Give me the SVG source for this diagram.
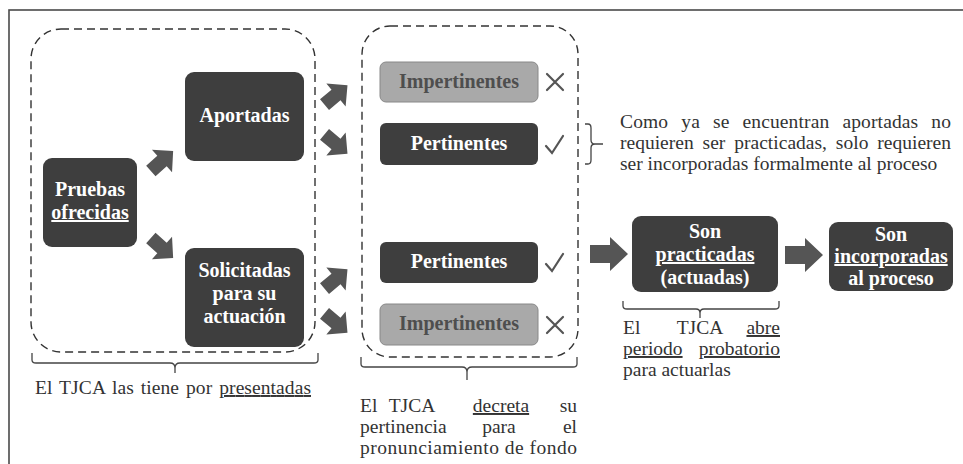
<svg xmlns="http://www.w3.org/2000/svg" width="963" height="464" viewBox="0 0 963 464" font-family="Liberation Serif, DejaVu Serif, serif">
<defs>
<style>
.frame{fill:none;stroke:#4a4a4a;stroke-width:1.6}
.dash{fill:none;stroke:#333;stroke-width:1.4;stroke-dasharray:8 5}
.dark{fill:#3e3e3e}
.light{fill:#a9a9a9;stroke:#888;stroke-width:1}
.nt{font-weight:bold;font-size:20px;fill:#fff;text-anchor:middle}
.lt{font-weight:bold;font-size:20px;fill:#4e4e4e;text-anchor:middle}
.tx{font-size:19.5px;fill:#333}
.u{text-decoration:underline}
.br{fill:none;stroke:#444;stroke-width:1.3}
.arr{fill:#555}
.mk{fill:none;stroke:#555;stroke-width:2.2;stroke-linecap:round}
</style>
<path id="da" d="M-15,-7 H0 V-15 L15,0 L0,15 V7 H-15 Z"/>
<path id="ha" d="M-19,-9 H1 V-17 L19,0 L1,17 V9 H-19 Z"/>
</defs>
<rect x="0" y="0" width="963" height="464" fill="#fff"/>
<rect class="frame" x="9" y="10" width="980" height="480"/>

<g id="group-presentadas">
<rect class="dash" x="31" y="29" width="284" height="323" rx="30"/>
<path class="br" d="M32,353 V360 Q32,363 36,363 H170 Q175,363 175,368 V373 M175,368 Q175,363 180,363 H314 Q318,363 318,360 V353"/>
<text class="tx" x="35" y="394" word-spacing="2" textLength="276" lengthAdjust="spacing">El TJCA las tiene por <tspan class="u">presentadas</tspan></text>
</g>

<g id="group-decreta">
<rect class="dash" x="362" y="26" width="216" height="331" rx="28"/>
<path class="br" d="M361,357 V364 Q361,367 365,367 H462 Q467,367 467,372 V380 M467,372 Q467,367 472,367 H573 Q577,367 577,364 V357"/>
<text class="tx" x="360" y="412">El</text>
<text class="tx" x="412" y="412" text-anchor="middle">TJCA</text>
<text class="tx u" x="501" y="412" text-anchor="middle">decreta</text>
<text class="tx" x="577" y="412" text-anchor="end">su</text>
<text class="tx" x="360" y="433">pertinencia</text>
<text class="tx" x="499" y="433" text-anchor="middle">para</text>
<text class="tx" x="577" y="433" text-anchor="end">el</text>
<text class="tx" x="360" y="454" textLength="217" lengthAdjust="spacing">pronunciamiento de fondo</text>
</g>

<g id="pruebas">
<rect class="dark" x="43" y="158" width="94" height="89" rx="9"/>
<text class="nt" x="90" y="196">Pruebas</text>
<text class="nt u" x="90" y="219">ofrecidas</text>
</g>
<g id="aportadas">
<rect class="dark" x="185" y="72" width="119" height="89" rx="9"/>
<text class="nt" x="244.5" y="122">Aportadas</text>
</g>
<g id="solicitadas">
<rect class="dark" x="185" y="248" width="119" height="99" rx="9"/>
<text class="nt" x="244.5" y="277">Solicitadas</text>
<text class="nt" x="244.5" y="300">para su</text>
<text class="nt" x="244.5" y="323">actuación</text>
</g>

<g id="impertinentes-1">
<rect class="light" x="380" y="62" width="158" height="40" rx="6"/>
<text class="lt" x="459" y="88">Impertinentes</text>
<path class="mk" d="M547,74 L563,90 M563,74 L547,90"/>
</g>
<g id="pertinentes-1">
<rect class="dark" x="380" y="123" width="158" height="42" rx="6"/>
<text class="nt" x="459" y="150">Pertinentes</text>
<path class="mk" d="M546,146 L552,153 L563,136"/>
</g>
<g id="pertinentes-2">
<rect class="dark" x="380" y="242" width="158" height="41" rx="6"/>
<text class="nt" x="459" y="268">Pertinentes</text>
<path class="mk" d="M546,264 L552,271 L563,254"/>
</g>
<g id="impertinentes-2">
<rect class="light" x="380" y="304" width="158" height="41" rx="6"/>
<text class="lt" x="459" y="330">Impertinentes</text>
<path class="mk" d="M547,317 L563,333 M563,317 L547,333"/>
</g>

<g id="nota-aportadas">
<path class="br" d="M585,124 H588 Q591,124 591,128 V140 Q591,144 595,144 H603 M595,144 Q591,144 591,148 V160 Q591,164 588,164 H585"/>
<text class="tx" x="620" y="128" word-spacing="8" textLength="331" lengthAdjust="spacing">Como ya se encuentran aportadas no</text>
<text class="tx" x="620" y="149" word-spacing="4" textLength="331" lengthAdjust="spacing">requieren ser practicadas, solo requieren</text>
<text class="tx" x="620" y="170">ser incorporadas formalmente al proceso</text>
</g>

<g id="practicadas">
<rect class="dark" x="632" y="216" width="146" height="76" rx="9"/>
<text class="nt" x="705" y="238">Son</text>
<text class="nt u" x="705" y="261">practicadas</text>
<text class="nt" x="705" y="284">(actuadas)</text>
</g>
<g id="incorporadas">
<rect class="dark" x="829" y="222" width="124" height="69" rx="9"/>
<text class="nt" x="891" y="241">Son</text>
<text class="nt u" x="891" y="263">incorporadas</text>
<text class="nt" x="891" y="285">al proceso</text>
</g>

<g id="nota-probatorio">
<path class="br" d="M623,301 V306 Q623,309 627,309 H696 Q700,309 700,313 V318 M700,313 Q700,309 704,309 H775 Q779,309 779,306 V301"/>
<text class="tx" x="623" y="334">El</text>
<text class="tx" x="700" y="334" text-anchor="middle">TJCA</text>
<text class="tx u" x="780" y="334" text-anchor="end">abre</text>
<text class="tx u" x="623" y="355">periodo</text>
<text class="tx u" x="780" y="355" text-anchor="end">probatorio</text>
<text class="tx" x="623" y="376">para actuarlas</text>
</g>

<g id="connectors">
<use href="#da" class="arr" transform="translate(162,161) rotate(-42)"/>
<use href="#da" class="arr" transform="translate(162,248) rotate(42)"/>
<use href="#da" class="arr" transform="translate(336,95) rotate(-40)"/>
<use href="#da" class="arr" transform="translate(336,144) rotate(40)"/>
<use href="#da" class="arr" transform="translate(336,279) rotate(-40)"/>
<use href="#da" class="arr" transform="translate(336,323) rotate(40)"/>
<use href="#ha" class="arr" transform="translate(609,254)"/>
<use href="#ha" class="arr" transform="translate(804,255)"/>
</g>
</svg>
